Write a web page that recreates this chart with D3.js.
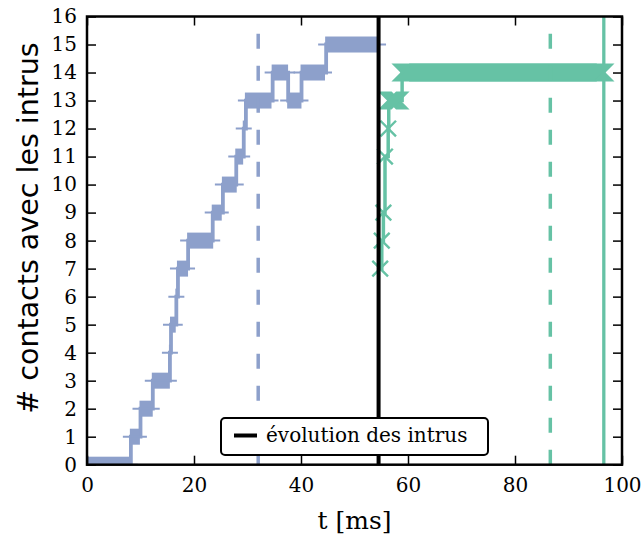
<!DOCTYPE html>
<html><head><meta charset="utf-8">
<script src="https://cdn.jsdelivr.net/npm/d3@7"></script>
<style>body{margin:0;background:#fff}</style>
</head><body>
<svg id="chart" width="644" height="538"></svg>
<script>
// Blue series (dense sampled runs): start time, end time, value
const blueStart = [0, 8.2, 10.0, 12.3, 15.5, 15.7, 16.7, 17.0, 18.9, 23.5, 25.4, 27.9, 29.3, 29.7, 34.7, 37.6, 40.1, 44.7];
const blueEnd   = [8.0, 9.7, 12.1, 15.3, 15.5, 16.4, 16.7, 18.7, 23.4, 25.0, 27.8, 29.0, 29.3, 34.3, 37.4, 39.9, 44.3, 54.4];
const blueValue = [0, 1, 2, 3, 4, 5, 6, 7, 8, 9, 10, 11, 12, 13, 14, 13, 14, 15];
// Green series runs
const greenStart = [54.8, 55.1, 55.4, 55.7, 56.3, 56.4, 58.9];
const greenEnd   = [54.8, 55.1, 55.4, 55.7, 56.3, 58.3, 96.6];
const greenValue = [7, 8, 9, 11, 12, 13, 14];
// Vertical reference lines
const blueDashed = 32.0, greenDashed = 86.6, greenSolid = 96.6, intrusLine = 54.5;
const xTicks = [0, 20, 40, 60, 80, 100];
const yTicks = [0,1,2,3,4,5,6,7,8,9,10,11,12,13,14,15,16];
const legendLabel = "évolution des intrus";
const xLabel = "t [ms]";
const yLabel = "# contacts avec les intrus";

const BLUE = "#8da0cb", GREEN = "#66c2a5";
const L = 87, R = 622, T = 16.5, B = 464.7;
const svg = d3.select("#chart");
const x = d3.scaleLinear().domain([0, 100]).range([L, R]);
const y = d3.scaleLinear().domain([0, 16]).range([B, T]);

svg.append("defs").append("clipPath").attr("id", "clip")
  .append("rect").attr("x", L).attr("y", T).attr("width", R - L).attr("height", B - T);
const g = svg.append("g").attr("clip-path", "url(#clip)");

function runs(s, e, v) { return s.map((d, i) => ({ s: d, e: e[i], v: v[i] })); }
const blueRuns = runs(blueStart, blueEnd, blueValue);
const greenRuns = runs(greenStart, greenEnd, greenValue);

function stepPts(rs) {
  const p = [];
  rs.forEach(r => { p.push([r.s, r.v]); if (r.e > r.s) p.push([r.e, r.v]); });
  return p;
}
const line = d3.line().x(d => x(d[0])).y(d => y(d[1])).curve(d3.curveStepAfter);

// blue step line
g.append("path").attr("d", line(stepPts(blueRuns))).attr("fill", "none")
  .attr("stroke", BLUE).attr("stroke-width", 3.8);
// blue '+' markers (dense runs merge into bands)
const h = 8;
blueRuns.forEach(r => {
  const x0 = x(r.s), x1 = x(r.e), yy = y(r.v);
  g.append("rect").attr("x", x0 - 1).attr("y", yy - h).attr("width", x1 - x0 + 2).attr("height", 2 * h).attr("fill", BLUE);
  g.append("line").attr("x1", x0 - h).attr("x2", x1 + h).attr("y1", yy).attr("y2", yy)
    .attr("stroke", BLUE).attr("stroke-width", 2);
});

// green step line
g.append("path").attr("d", line(stepPts(greenRuns))).attr("fill", "none")
  .attr("stroke", GREEN).attr("stroke-width", 3.5);
// green 'x' markers (dense runs merge into bands with bow-tie ends)
const k = 7.8;
greenRuns.forEach(r => {
  const x0 = x(r.s), x1 = x(r.e), yy = y(r.v);
  const p1 = `M${x0 - k},${yy - k}L${x1 - k},${yy - k}L${x1 + k},${yy + k}L${x0 + k},${yy + k}Z`;
  const p2 = `M${x0 - k},${yy + k}L${x1 - k},${yy + k}L${x1 + k},${yy - k}L${x0 + k},${yy - k}Z`;
  [p1, p2].forEach(p => g.append("path").attr("d", p).attr("fill", GREEN).attr("stroke", GREEN)
    .attr("stroke-width", 2.4).attr("stroke-linejoin", "miter"));
});

// vertical lines
function vline(t, color, dashed, w) {
  const l = g.append("line").attr("x1", x(t)).attr("x2", x(t)).attr("y1", y(0)).attr("y2", y(16))
    .attr("stroke", color).attr("stroke-width", w);
  if (dashed) l.attr("stroke-dasharray", "15,17");
}
vline(blueDashed, BLUE, true, 3.5);
vline(greenDashed, GREEN, true, 3.5);
vline(greenSolid, GREEN, false, 3.3);
vline(intrusLine, "#000", false, 4);

// axes with inside ticks on all sides
const serif = "DejaVu Serif";
function styleAxis(sel) {
  sel.select(".domain").remove();
  sel.selectAll(".tick line").attr("stroke", "#000").attr("stroke-width", 1.5);
  sel.selectAll(".tick text").attr("font-family", serif).attr("font-size", 20).attr("fill", "#000");
}
svg.append("g").attr("transform", `translate(0,${B})`)
  .call(d3.axisBottom(x).tickValues(xTicks).tickSize(-9).tickPadding(13).tickFormat(d3.format("d")))
  .call(styleAxis);
svg.append("g").attr("transform", `translate(0,${T})`)
  .call(d3.axisTop(x).tickValues(xTicks).tickSize(-9).tickFormat(""))
  .call(styleAxis);
svg.append("g").attr("transform", `translate(${L},0)`)
  .call(d3.axisLeft(y).tickValues(yTicks).tickSize(-9).tickPadding(10).tickFormat(d3.format("d")))
  .call(styleAxis);
svg.append("g").attr("transform", `translate(${R},0)`)
  .call(d3.axisRight(y).tickValues(yTicks).tickSize(-9).tickFormat(""))
  .call(styleAxis);

// legend
const lg = svg.append("g");
lg.append("rect").attr("x", 221).attr("y", 418).attr("width", 267).attr("height", 37).attr("rx", 4)
  .attr("fill", "#fff").attr("stroke", "#000").attr("stroke-width", 2);
lg.append("line").attr("x1", 234).attr("x2", 257).attr("y1", 435.5).attr("y2", 435.5)
  .attr("stroke", "#000").attr("stroke-width", 4);
lg.append("text").attr("x", 266).attr("y", 442).attr("font-family", serif).attr("font-size", 20)
  .text(legendLabel);

// frame
svg.append("rect").attr("x", L).attr("y", T).attr("width", R - L).attr("height", B - T)
  .attr("fill", "none").attr("stroke", "#000").attr("stroke-width", 2.5);

// axis labels
svg.append("text").attr("x", (L + R) / 2).attr("y", 529).attr("text-anchor", "middle")
  .attr("font-family", serif).attr("font-size", 25).text(xLabel);
svg.append("text").attr("transform", `translate(38,228) rotate(-90)`).attr("text-anchor", "middle")
  .attr("font-family", "DejaVu Sans").attr("font-size", 28.5).text(yLabel);
</script>
</body></html>
